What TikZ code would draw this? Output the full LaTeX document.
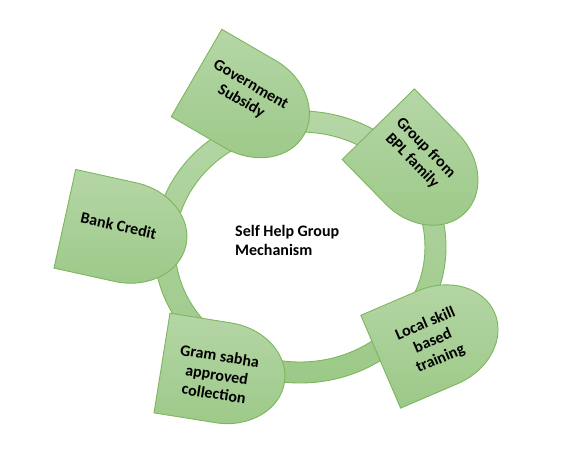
\documentclass[tikz,border=0pt]{standalone}
\usepackage{fontspec}
\setmainfont{Carlito}
\definecolor{gl}{HTML}{B5D6A6}
\definecolor{gd}{HTML}{9CC988}
\definecolor{gb}{HTML}{7DB65C}
\tikzset{
  greenfill/.style={draw=gb, line width=0.9pt, top color=gl, bottom color=gd},
  lbl/.style={font=\fontsize{16}{19}\selectfont\bfseries, align=center, text=black, transform shape, inner sep=0pt},
}
\begin{document}
\begin{tikzpicture}[x=1pt,y=-1pt]
\useasboundingbox (0,0) rectangle (561,455);
% ring
\path[greenfill, even odd rule] (300,247) ellipse[x radius=146, y radius=136]
      (300,247) ellipse[x radius=125, y radius=115];
% Government Subsidy
\begin{scope}[shift={(196.5,73)}, rotate=-30.1]
  \path[greenfill] (0,-50.5) -- (62,-50.5) arc[start angle=-90,end angle=90,x radius=62,y radius=50.5] -- (0,50.5) -- cycle;
  \node[lbl] (gov) at (53,-7) {Government\\Subsidy};
\end{scope}
% Group from BPL family
\begin{scope}[shift={(378.3,124.2)}, rotate=-45.7]
  \path[greenfill] (0,-50.5) -- (62,-50.5) arc[start angle=-90,end angle=90,x radius=62,y radius=50.5] -- (0,50.5) -- cycle;
  \node[lbl] (bpl) at (50,-8) {Group from\\BPL family};
\end{scope}
% Bank Credit
\begin{scope}[shift={(64.85,218.8)}, rotate=-12.4]
  \path[greenfill] (0,-50.5) -- (62,-50.5) arc[start angle=-90,end angle=90,x radius=62,y radius=50.5] -- (0,50.5) -- cycle;
  \node[lbl] (bank) at (54,-5) {Bank Credit};
\end{scope}
% Gram sabha
\begin{scope}[shift={(162,363)}, rotate=-9.1]
  \path[greenfill] (0,-50.5) -- (62,-50.5) arc[start angle=-90,end angle=90,x radius=62,y radius=50.5] -- (0,50.5) -- cycle;
  \node[lbl] (gram) at (56,3) {Gram sabha\\approved\\collection};
\end{scope}
% Local skill based training
\begin{scope}[shift={(380.7,361.7)}, rotate=23.2]
  \path[greenfill] (0,-50.5) -- (62,-50.5) arc[start angle=-90,end angle=90,x radius=62,y radius=50.5] -- (0,50.5) -- cycle;
  \node[lbl] (local) at (56,2) {Local skill\\based\\training};
\end{scope}
% centre text
\node[font=\fontsize{16}{19}\selectfont\bfseries, align=left, anchor=base west, inner sep=0pt] (title) at (235,255) {Self Help Group\\Mechanism};
\end{tikzpicture}
\end{document}
